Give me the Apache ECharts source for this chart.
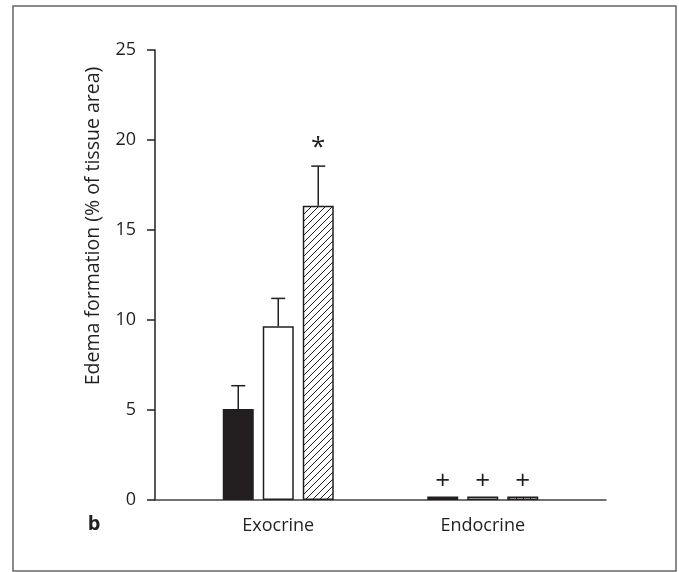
<!DOCTYPE html>
<html>
<head>
<meta charset="utf-8">
<script src="https://cdn.jsdelivr.net/npm/echarts@6/dist/echarts.min.js"></script>
<style>
  html, body { margin: 0; padding: 0; background: #fff; }
  #chart { width: 679px; height: 572px; }
</style>
</head>
<body>
<div id="chart"></div>
<script>
// values
const categories = ['Exocrine', 'Endocrine'];
const blackValues = [5.05, 0.2];
const whiteValues = [9.65, 0.2];
const hatchValues = [16.35, 0.2];
const blackErr = [1.3, 0];
const whiteErr = [1.55, 0];
const hatchErr = [2.2, 0];
const blackMarks = ['', '+'];
const whiteMarks = ['', '+'];
const hatchMarks = ['*', '+'];
const yMax = 25;
const yStep = 5;
const yTitle = 'Edema formation (% of tissue area)';

const INK = '#231f20';
const FONT = 'Open Sans';
const BAR_W = 31;
const BAR_GAP = 9;

// diagonal hatch pattern
const hatch = document.createElement('canvas');
hatch.width = 7;
hatch.height = 7;
(function () {
  const c = hatch.getContext('2d');
  c.fillStyle = '#fff';
  c.fillRect(0, 0, 7, 7);
  c.strokeStyle = INK;
  c.lineWidth = 1;
  c.beginPath();
  c.moveTo(-1, 8); c.lineTo(8, -1);
  c.moveTo(-1, 1); c.lineTo(1, -1);
  c.moveTo(6, 8); c.lineTo(8, 6);
  c.stroke();
})();

const chart = echarts.init(document.getElementById('chart'));

function errorSeries(slot, values, errs, marks) {
  return {
    type: 'custom',
    xAxisIndex: 1,
    yAxisIndex: 1,
    z: 5,
    data: values.map((v, i) => [i, v, errs[i]]),
    renderItem: (params, api) => {
      const idx = api.value(0);
      const val = api.value(1);
      const err = api.value(2);
      const base = api.coord([idx, val]);
      const x = base[0] + (slot - 1) * (BAR_W + BAR_GAP);
      const top = api.coord([idx, val + err])[1];
      const children = [];
      if (err > 0) {
        children.push({
          type: 'line',
          shape: { x1: x, y1: base[1], x2: x, y2: top },
          style: { stroke: INK, lineWidth: 1.5 }
        });
        children.push({
          type: 'line',
          shape: { x1: x - 7, y1: top, x2: x + 7, y2: top },
          style: { stroke: INK, lineWidth: 1.5 }
        });
      }
      const mark = marks[params.dataIndex];
      if (mark) {
        const star = mark === '*';
        children.push({
          type: 'text',
          x: x,
          y: star ? top - 6 : top - 2,
          style: {
            text: mark,
            fill: INK,
            font: (star ? '26px ' : '26px ') + FONT,
            align: 'center',
            verticalAlign: 'bottom'
          }
        });
      }
      return { type: 'group', children: children };
    }
  };
}

const option = {
  backgroundColor: '#fff',
  animation: false,
  textStyle: { fontFamily: FONT },
  graphic: [{
    type: 'rect',
    shape: { x: 13, y: 6, width: 663, height: 565 },
    style: { fill: 'none', stroke: '#666', lineWidth: 1.5 },
    silent: true
  }, {
    type: 'text',
    x: 94,
    y: 524,
    style: { text: 'b', font: 'bold 20px ' + FONT, fill: INK, align: 'center', verticalAlign: 'middle' }
  }, {
    type: 'text',
    x: 93,
    y: 226,
    rotation: Math.PI / 2,
    style: { text: yTitle, font: '19.5px ' + FONT, fill: INK, align: 'center', verticalAlign: 'middle' }
  }],
  grid: [
    { left: 155, right: 73, top: 50, bottom: 72 },
    { left: 176, right: 94, top: 50, bottom: 72 }
  ],
  xAxis: [
    {
      gridIndex: 0,
      type: 'value',
      min: 0,
      max: 1,
      axisLine: { show: true, onZero: false, lineStyle: { color: '#444', width: 1.5 } },
      axisTick: { show: false },
      axisLabel: { show: false },
      splitLine: { show: false }
    },
    {
      gridIndex: 1,
      type: 'category',
      data: categories,
      axisLine: { show: false },
      axisTick: { show: false },
      axisLabel: { color: INK, fontSize: 18, fontFamily: FONT, margin: 17 }
    }
  ],
  yAxis: [
    {
      gridIndex: 0,
      type: 'value',
      min: 0,
      max: yMax,
      interval: yStep,
      axisLine: { show: true, lineStyle: { color: INK, width: 1.5 } },
      axisTick: { show: true, length: 8, lineStyle: { color: INK, width: 1.5 } },
      axisLabel: { color: INK, fontSize: 18, fontFamily: FONT, margin: 19 },
      splitLine: { show: false }
    },
    {
      gridIndex: 1,
      type: 'value',
      min: 0,
      max: yMax,
      interval: yStep,
      show: false
    }
  ],
  series: [
    {
      type: 'bar',
      xAxisIndex: 1,
      yAxisIndex: 1,
      data: blackValues,
      barWidth: BAR_W,
      barGap: (BAR_GAP / BAR_W * 100) + '%',
      itemStyle: { color: INK, borderColor: INK, borderWidth: 1.5 }
    },
    {
      type: 'bar',
      xAxisIndex: 1,
      yAxisIndex: 1,
      data: whiteValues,
      barWidth: BAR_W,
      barGap: (BAR_GAP / BAR_W * 100) + '%',
      itemStyle: { color: '#fff', borderColor: INK, borderWidth: 1.5 }
    },
    {
      type: 'bar',
      xAxisIndex: 1,
      yAxisIndex: 1,
      data: hatchValues,
      barWidth: BAR_W,
      barGap: (BAR_GAP / BAR_W * 100) + '%',
      itemStyle: { color: { image: hatch, repeat: 'repeat' }, borderColor: INK, borderWidth: 1.5 }
    },
    errorSeries(0, blackValues, blackErr, blackMarks),
    errorSeries(1, whiteValues, whiteErr, whiteMarks),
    errorSeries(2, hatchValues, hatchErr, hatchMarks)
  ]
};

chart.setOption(option);
</script>
</body>
</html>
